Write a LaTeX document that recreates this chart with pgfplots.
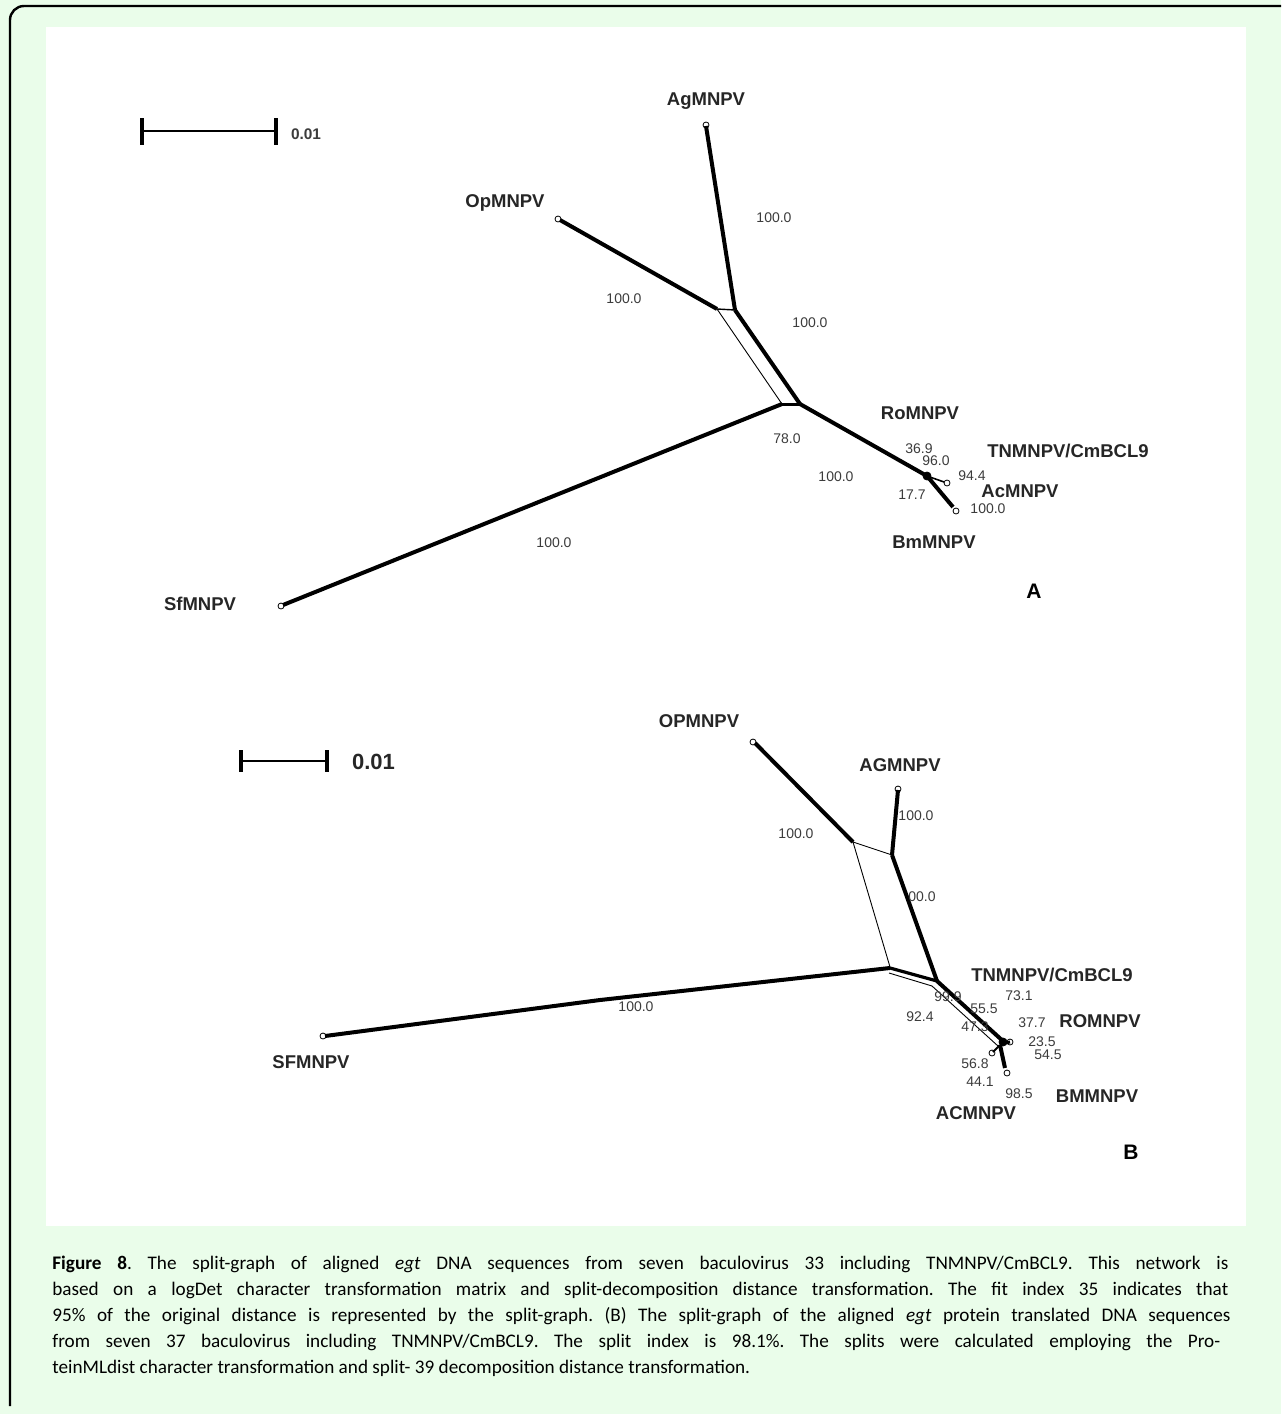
\documentclass[border=0pt]{standalone}
\usepackage{pgfplots}
\pgfplotsset{compat=1.18}
\usepackage{fontspec}
\setmainfont{Carlito}
\newfontfamily\arial{Liberation Sans}
\definecolor{bggreen}{RGB}{234,253,234}
\definecolor{numgray}{RGB}{60,60,60}
\begin{document}
\frenchspacing
\begin{tikzpicture}
\begin{axis}[name=ax, scale only axis, width=640.5pt, height=707pt,
  xmin=0, xmax=1281, ymin=0, ymax=1414, y dir=reverse,
  axis lines=none, ticks=none, clip=false]
% background frame
\fill[bggreen] (0,0) rectangle (1281,1414);
\draw[black, line width=1.2pt, rounded corners=7pt] (10,1406) -- (10,6) -- (1281,6);
\fill[white] (46,27) rectangle (1246,1226);

%%%%%%%%%%%%%%%% Panel A %%%%%%%%%%%%%%%%
% scale bar
\addplot[black, line width=1.2pt] coordinates {(142,131) (276,131)};
\addplot[black, line width=2pt] coordinates {(142,118) (142,145)};
\addplot[black, line width=2pt] coordinates {(276,118) (276,145)};
\node[font=\arial\bfseries\fontsize{7.7}{8}\selectfont, text=numgray, anchor=west] at (284,134) {0.01};
% edges
\addplot[black, line width=2pt] coordinates {(706,126) (735,310)};
\addplot[black, line width=2pt] coordinates {(560,220) (717,309)};
\addplot[black, line width=0.7pt] coordinates {(717,309) (735,310)};
\addplot[black, line width=0.45pt] coordinates {(717,309) (782,404)};
\addplot[black, line width=2pt] coordinates {(735,310) (800,404)};
\addplot[black, line width=1.5pt] coordinates {(782,404) (800,404)};
\addplot[black, line width=2pt] coordinates {(782,404) (283,605)};
\addplot[black, line width=2pt] coordinates {(800,404) (927,476)};
\addplot[black, line width=2pt] coordinates {(927,476) (953,507)};
\addplot[black, line width=0.8pt] coordinates {(927,476) (944,482)};
\addplot[only marks, mark=*, mark size=2pt, black] coordinates {(927,476)};
\addplot[only marks, mark=o, mark size=1.5pt, black, mark options={line width=0.4pt, fill=white}]
  coordinates {(706,125) (558,219) (281,606) (956,511) (947,483)};
% labels
\begin{scope}[every node/.style={font=\arial\bfseries\fontsize{9.25}{10}\selectfont, text=black!85}]
\node at (706,101) {AgMNPV};
\node at (505,203) {OpMNPV};
\node at (920,413) {RoMNPV};
\node at (1068,451) {TNMNPV/CmBCL9};
\node at (1020,491) {AcMNPV};
\node at (934,542) {BmMNPV};
\node at (200,604) {SfMNPV};
\end{scope}
\node[font=\arial\bfseries\fontsize{10.5}{11}\selectfont] at (1034,591) {A};
\begin{scope}[every node/.style={font=\arial\fontsize{7}{8}\selectfont, text=numgray, inner sep=0pt}]
\node at (774,218) {100.0};
\node at (624,299) {100.0};
\node at (810,323) {100.0};
\node at (787,439) {78.0};
\node at (919,449) {36.9};
\node at (936,461) {96.0};
\node at (972,476) {94.4};
\node at (836,477) {100.0};
\node at (912,495) {17.7};
\node at (988,509) {100.0};
\node at (554,543) {100.0};
\end{scope}

%%%%%%%%%%%%%%%% Panel B %%%%%%%%%%%%%%%%
\addplot[black, line width=1.2pt] coordinates {(241,761) (327,761)};
\addplot[black, line width=2pt] coordinates {(241,750) (241,772)};
\addplot[black, line width=2pt] coordinates {(327,750) (327,772)};
\node[font=\arial\bfseries\fontsize{11}{12}\selectfont, text=black!85, anchor=west] at (345,762) {0.01};
% edges
\addplot[black, line width=2pt] coordinates {(755,743) (853,842)};
\addplot[black, line width=2pt] coordinates {(898,790) (892,855)};
\addplot[black, line width=0.45pt] coordinates {(853,842) (892,855)};
\addplot[black, line width=0.45pt] coordinates {(853,842) (890,967)};
\addplot[black, line width=2pt] coordinates {(325,1036) (600,1000) (890,968)};
\addplot[black, line width=1.6pt] coordinates {(890,968) (937,981)};
\addplot[black, line width=0.45pt] coordinates {(889,973) (932,986)};
\addplot[black, line width=2pt] coordinates {(892,855) (937,981)};
\addplot[black, line width=2pt] coordinates {(937,981) (1004,1042)};
\addplot[black, line width=0.45pt] coordinates {(932,986) (998,1046)};
\addplot[black, line width=2pt] coordinates {(1000,1045) (1005,1068)};
\addplot[black, line width=1pt] coordinates {(1000,1045) (993,1052)};
\addplot[black, line width=1.5pt] coordinates {(1000,1044) (1010,1042)};
\addplot[only marks, mark=*, mark size=2pt, black] coordinates {(1003,1042)};
\addplot[only marks, mark=o, mark size=1.5pt, black, mark options={line width=0.4pt, fill=white}]
  coordinates {(753,742) (898,789) (323,1036) (1010,1042) (992,1053) (1007,1073)};
% labels
\begin{scope}[every node/.style={font=\arial\bfseries\fontsize{9.25}{10}\selectfont, text=black!85}]
\node at (699,721) {OPMNPV};
\node at (900,765) {AGMNPV};
\node at (1052,975) {TNMNPV/CmBCL9};
\node at (1100,1021) {ROMNPV};
\node at (1097,1096) {BMMNPV};
\node at (976,1113) {ACMNPV};
\node at (311,1062) {SFMNPV};
\end{scope}
\node[font=\arial\bfseries\fontsize{10.5}{11}\selectfont] at (1131,1152) {B};
\begin{scope}[every node/.style={font=\arial\fontsize{7}{8}\selectfont, text=numgray, inner sep=0pt}]
\node at (916,816) {100.0};
\node at (796,834) {100.0};
\node at (922,897) {00.0};
\node at (1019,996) {73.1};
\node at (948,997) {99.9};
\node at (984,1009) {55.5};
\node at (920,1017) {92.4};
\node at (975,1027) {47.3};
\node at (1032,1023) {37.7};
\node at (1042,1042) {23.5};
\node at (1048,1055) {54.5};
\node at (975,1064) {56.8};
\node at (980,1082) {44.1};
\node at (1019,1094) {98.5};
\node at (636,1007) {100.0};
\end{scope}

%%%%%%%%%%%%%%%% Caption %%%%%%%%%%%%%%%%
\begin{scope}[every node/.style={font=\fontsize{9.6}{12}\selectfont, anchor=base west, inner sep=0pt, text=black}]
\node at (52,1269) {\makebox[588pt][s]{\textbf{Figure 8}. The split-graph of aligned \textit{egt} DNA sequences from seven baculovirus 33 including TNMNPV/CmBCL9. This network is}};
\node at (52,1295) {\makebox[588pt][s]{based on a logDet character transformation matrix and split-decomposition distance transformation. The fit index 35 indicates that}};
\node at (52,1321) {\makebox[589pt][s]{95\% of the original distance is represented by the split-graph. (B) The split-graph of the aligned \textit{egt} protein translated DNA sequences}};
\node at (52,1347) {\makebox[584pt][s]{from seven 37 baculovirus including TNMNPV/CmBCL9. The split index is 98.1\%. The splits were calculated employing the Pro-}};
\node at (52,1373) {teinMLdist character transformation and split- 39 decomposition distance transformation.};
\end{scope}
\end{axis}
\pgfresetboundingbox
\path (ax.south west) rectangle (ax.north east);
\end{tikzpicture}
\end{document}
